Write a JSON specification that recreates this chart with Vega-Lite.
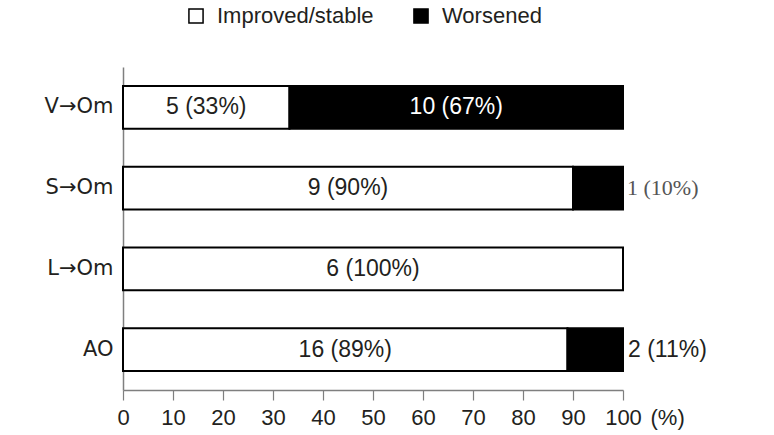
{
  "$schema": "https://vega.github.io/schema/vega-lite/v6.json",
  "width": 500,
  "height": 323,
  "autosize": {"type": "none"},
  "padding": {"left": 123, "top": 67, "right": 151, "bottom": 45},
  "background": "white",
  "config": {
    "view": {"stroke": null},
    "font": "Liberation Sans",
    "axisX": {
      "grid": false,
      "tickSize": 10,
      "tickColor": "#7f7f7f",
      "tickWidth": 1.2,
      "domainColor": "#7f7f7f",
      "domainWidth": 1.5,
      "labelFontSize": 22,
      "labelColor": "#231f20",
      "labelPadding": 7,
      "labelFlush": false,
      "labelOverlap": false,
      "titleX": 527,
      "titleY": 17,
      "titleAlign": "left",
      "titleBaseline": "top",
      "titleFontWeight": "normal",
      "titleFontSize": 22,
      "titleColor": "#231f20"
    }
  },
  "data": {
    "values": [
      {"group": "V→Om", "status": "Improved/stable", "n": 5, "pct": 33.3, "label": "5 (33%)"},
      {"group": "V→Om", "status": "Worsened", "n": 10, "pct": 66.7, "label": "10 (67%)"},
      {"group": "S→Om", "status": "Improved/stable", "n": 9, "pct": 90, "label": "9 (90%)"},
      {"group": "S→Om", "status": "Worsened", "n": 1, "pct": 10, "label": "1 (10%)"},
      {"group": "L→Om", "status": "Improved/stable", "n": 6, "pct": 100, "label": "6 (100%)"},
      {"group": "AO", "status": "Improved/stable", "n": 16, "pct": 88.9, "label": "16 (89%)"},
      {"group": "AO", "status": "Worsened", "n": 2, "pct": 11.1, "label": "2 (11%)"}
    ]
  },
  "transform": [
    {"stack": "pct", "groupby": ["group"], "sort": [{"field": "status", "order": "ascending"}], "as": ["x0", "x1"]},
    {"calculate": "(datum.x0 + datum.x1) / 2", "as": "mid"}
  ],
  "encoding": {
    "y": {
      "field": "group",
      "type": "nominal",
      "sort": ["V→Om", "S→Om", "L→Om", "AO"],
      "scale": {"paddingInner": 0.47, "paddingOuter": 0.235},
      "axis": {
        "title": null,
        "ticks": false,
        "domainColor": "#7f7f7f",
        "domainWidth": 1.5,
        "labelFont": "DejaVu Sans",
        "labelFontSize": 21,
        "labelColor": "#231f20",
        "labelPadding": 10
      }
    }
  },
  "layer": [
    {
      "mark": {"type": "bar", "stroke": "black", "strokeWidth": 2},
      "encoding": {
        "x": {
          "field": "x0",
          "type": "quantitative",
          "scale": {"domain": [0, 100], "nice": false},
          "axis": {"values": [0, 10, 20, 30, 40, 50, 60, 70, 80, 90, 100], "title": "(%)"}
        },
        "x2": {"field": "x1"},
        "fill": {
          "field": "status",
          "type": "nominal",
          "scale": {"domain": ["Improved/stable", "Worsened"], "range": ["white", "black"]},
          "legend": {
            "orient": "none",
            "legendX": 62,
            "legendY": -62,
            "direction": "horizontal",
            "title": null,
            "symbolType": "square",
            "symbolSize": 200,
            "symbolStrokeColor": "black",
            "symbolStrokeWidth": 1.5,
            "labelFontSize": 22,
            "labelColor": "#231f20",
            "labelOffset": 10,
            "columnPadding": 36
          }
        }
      }
    },
    {
      "transform": [{"filter": "datum.pct >= 20 && datum.status == 'Improved/stable'"}],
      "mark": {"type": "text", "fontSize": 23, "color": "#231f20", "baseline": "middle"},
      "encoding": {
        "x": {"field": "mid", "type": "quantitative", "axis": {"values": [0, 10, 20, 30, 40, 50, 60, 70, 80, 90, 100], "title": "(%)"}},
        "text": {"field": "label"}
      }
    },
    {
      "transform": [{"filter": "datum.pct >= 20 && datum.status == 'Worsened'"}],
      "mark": {"type": "text", "fontSize": 23, "color": "white", "baseline": "middle"},
      "encoding": {
        "x": {"field": "mid", "type": "quantitative", "axis": {"values": [0, 10, 20, 30, 40, 50, 60, 70, 80, 90, 100], "title": "(%)"}},
        "text": {"field": "label"}
      }
    },
    {
      "transform": [{"filter": "datum.pct < 20 && datum.group == 'AO'"}],
      "mark": {"type": "text", "fontSize": 23, "color": "#231f20", "baseline": "middle", "align": "left", "dx": 5},
      "encoding": {
        "x": {"field": "x1", "type": "quantitative", "axis": {"values": [0, 10, 20, 30, 40, 50, 60, 70, 80, 90, 100], "title": "(%)"}},
        "text": {"field": "label"}
      }
    },
    {
      "transform": [{"filter": "datum.pct < 20 && datum.group == 'S→Om'"}],
      "mark": {"type": "text", "font": "Liberation Serif", "fontSize": 22, "color": "#555555", "baseline": "middle", "align": "left", "dx": 4},
      "encoding": {
        "x": {"field": "x1", "type": "quantitative", "axis": {"values": [0, 10, 20, 30, 40, 50, 60, 70, 80, 90, 100], "title": "(%)"}},
        "text": {"field": "label"}
      }
    }
  ]
}
